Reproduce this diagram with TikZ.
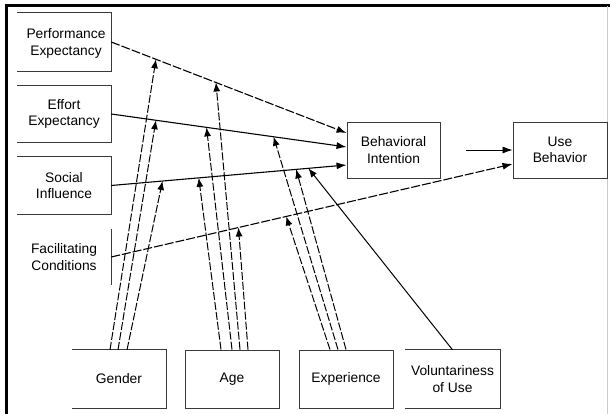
\documentclass[tikz,border=0pt]{standalone}
\usepackage{fontspec}
\setmainfont{Liberation Sans}
\usetikzlibrary{positioning}
\usetikzlibrary{arrows.meta}
\definecolor{boxgray}{HTML}{3a3a3a}
\tikzset {
  % construct boxes
  construct/.style = {minimum width=94pt, minimum height=57pt, inner sep=0pt,
    align=center, font=\fontsize{13.8}{16.5}\selectfont},
  boxed/.style = {draw=boxgray, line width=0.9pt},
  % paths of the model
  path/.style = {line width=1.1pt, -{Latex[length=10pt,width=7pt]}},
  dashpath/.style = {path, dash pattern=on 9pt off 2pt},
  % moderator arrows
  moder/.style = {line width=1pt, dash pattern=on 8pt off 2pt, -{Latex[length=9pt,width=7pt]}},
}
\newcommand{\openbox}[1]{\draw[boxgray, line width=0.9pt] (#1.north west) -- (#1.north east) -- (#1.south east) -- (#1.south west);}

\begin{document}
\begin{tikzpicture}[x=1pt, y=-1pt]
        \useasboundingbox (0,0) rectangle (610,414);
        % frame
        \draw[line width=3pt] (6,414) -- (6,6) -- (610,6);
        \draw[gray!40, line width=0.8pt] (607,6) -- (607,414);

        % constructs
        \node[construct, minimum height=58pt, text depth=-4pt, xshift=0pt] (pe) at (64,42) {\hspace*{4pt}Performance\\\hspace*{4pt}Expectancy};
        \node[construct] (ee) at (64,114) {Effort\\Expectancy};
        \node[construct] (si) at (64,185.5) {Social\\Influence};
        \node[construct] (fc) at (64,257) {Facilitating\\Conditions};
        \node[construct, boxed, minimum width=93pt, minimum height=56pt] (bi) at (393.5,150) {Behavioral\\Intention};
        \node[construct, boxed, minimum height=56pt] (ub) at (560,150) {Use\\Behavior};
        % moderators
        \node[construct, minimum height=58pt] (gender) at (119,379) {Gender};
        \node[construct, boxed, minimum height=58pt] (age) at (232,379) {Age};
        \node[construct, boxed, minimum height=58pt] (exp) at (346,379) {Experience};
        \node[construct, minimum width=95pt, minimum height=58pt] (vol) at (452.5,379) {Voluntariness\\of Use};
        \openbox{pe}
        \openbox{ee}
        \openbox{si}
        \openbox{gender}
        \openbox{vol}
        \draw[boxgray, line width=0.9pt] (111,229) -- (111,285);

        % main paths
        \draw[dashpath] (pe.east) -- ([yshift=17pt]bi.west)
          coordinate[pos=.19] (pe1) coordinate[pos=.445] (pe2);
        \draw[path] (ee.east) -- ([yshift=3pt]bi.west)
          coordinate[pos=.19] (ee1) coordinate[pos=.405] (ee2) coordinate[pos=.69] (ee3);
        \draw[path] (si.east) -- ([yshift=-15pt]bi.west)
          coordinate[pos=.218] (si1) coordinate[pos=.372] (si2) coordinate[pos=.786] (si3) coordinate[pos=.838] (si4);
        \draw[dashpath] (fc.east) -- ([yshift=-14pt]ub.west)
          coordinate[pos=.317] (fc2) coordinate[pos=.436] (fc3);
        \coordinate (biout) at (466,150);
        \draw[line width=0.8pt, -{Latex[length=10pt,width=7pt]}] (biout) -- (ub.west);

        % gender
        \draw[moder] ([xshift=-9pt]gender.north) -- (pe1);
        \draw[moder] ([xshift=-1pt]gender.north) -- (ee1);
        \draw[moder] ([xshift=8pt]gender.north) -- (si1);
        % age
        \draw[moder] ([xshift=8pt]age.north) -- (pe2);
        \draw[moder] (age.north) -- (ee2);
        \draw[moder] ([xshift=-11pt]age.north) -- (si2);
        \draw[moder] ([xshift=16pt]age.north) -- (fc2);
        % experience
        \draw[moder] ([xshift=-8pt]exp.north) -- (ee3);
        \draw[moder] (exp.north) -- (si3);
        \draw[moder] ([xshift=-16pt]exp.north) -- (fc3);
        % voluntariness
        \draw[line width=1pt, -{Latex[length=9pt,width=7pt]}] (vol.north) -- (si4);
      \end{tikzpicture}
\end{document}
